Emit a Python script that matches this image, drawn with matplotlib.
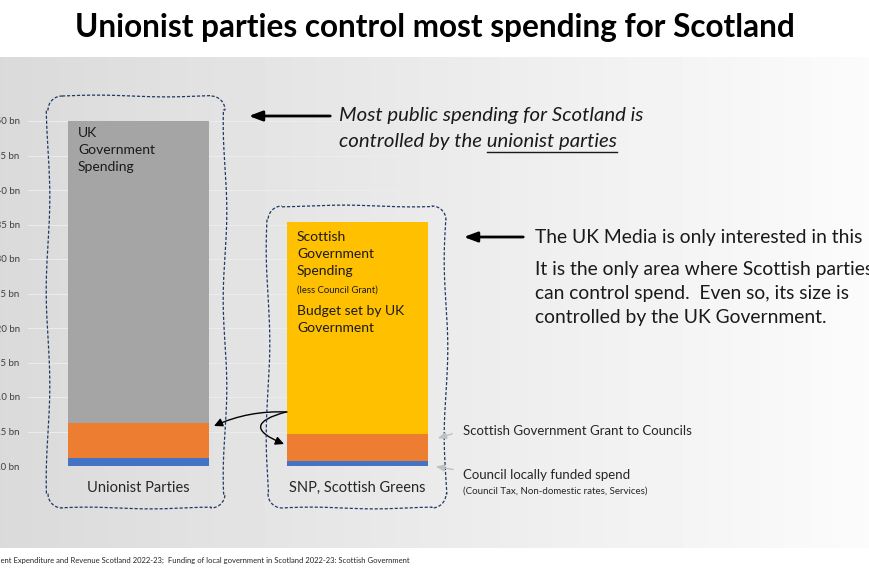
import numpy as np
import matplotlib
matplotlib.use("Agg")
import matplotlib.pyplot as plt
from matplotlib.patches import FancyArrowPatch

plt.rcParams['font.family'] = ['Lato', 'DejaVu Sans']

# data (in £ bn)
categories = ["Unionist Parties", "SNP, Scottish Greens"]
council_local = [1.1, 0.7]
council_grant = [5.1, 4.0]
uk_gov = [43.8, 0.0]
scot_gov = [0.0, 30.6]
yticks = [0, 5, 10, 15, 20, 25, 30, 35, 40, 45, 50]

W, H = 870, 570
fig = plt.figure(figsize=(W / 100, H / 100), dpi=100, facecolor="white")

# grey gradient panel
bg = fig.add_axes([0, 22 / H, 1, 491 / H], zorder=0)
grad = np.linspace(0.855, 0.985, 256).reshape(1, -1)
bg.imshow(grad, cmap="gray", vmin=0, vmax=1, aspect="auto", extent=[0, 1, 0, 1])
bg.set_axis_off()

# main chart axes
ax = fig.add_axes([28 / W, (H - 466) / H, 437 / W, 345 / H], zorder=1)
ax.patch.set_alpha(0)
x = np.arange(len(categories))
bw = 0.644
b1 = np.array(council_local)
b2 = b1 + np.array(council_grant)
b3 = b2 + np.array(uk_gov)
ax.bar(x, council_local, bw, color="#4472c4", zorder=3)
ax.bar(x, council_grant, bw, bottom=b1, color="#ed7d31", zorder=3)
ax.bar(x, uk_gov, bw, bottom=b2, color="#a5a5a5", zorder=3)
ax.bar(x, scot_gov, bw, bottom=b3, color="#ffc000", zorder=3)
ax.set_xlim(-0.505, 1.49)
ax.set_ylim(0, 50)
ax.set_yticks(yticks)
ax.set_yticklabels([f"£{v} bn" for v in yticks], fontsize=7, color="#404040")
ax.set_xticks(x)
ax.set_xticklabels(categories, fontsize=10.5, color="#262626")
ax.tick_params(axis="y", length=0, pad=6)
ax.tick_params(axis="x", length=0, pad=11)
ax.grid(axis="y", color="#ececec", lw=0.8, zorder=0)
for s in ax.spines.values():
    s.set_visible(False)

# labels inside bars
txtc = "#1a1a1a"
ax.text(x[0] - bw / 2 + 0.045, b3[0] - 0.8, "UK\nGovernment\nSpending", fontsize=10,
        color=txtc, va="top", ha="left", linespacing=1.5, zorder=4)
top1 = b3[1] + scot_gov[1]
ax.text(x[1] - bw / 2 + 0.045, top1 - 1.2, "Scottish\nGovernment\nSpending", fontsize=10,
        color=txtc, va="top", ha="left", linespacing=1.5, zorder=4)
ax.text(x[1] - bw / 2 + 0.045, top1 - 9.2, "(less Council Grant)", fontsize=6.8,
        color=txtc, va="top", ha="left", zorder=4)
ax.text(x[1] - bw / 2 + 0.045, top1 - 12.0, "Budget set by UK\nGovernment", fontsize=10,
        color=txtc, va="top", ha="left", linespacing=1.5, zorder=4)

# overlay in pixel coordinates for annotations
ov = fig.add_axes([0, 0, 1, 1], zorder=5)
ov.set_xlim(0, W)
ov.set_ylim(H, 0)
ov.set_axis_off()
ov.patch.set_alpha(0)


def wavy_box(x0, y0, x1, y1, r=14, amp=1.8, ph=0.0):
    pts = []
    for xx in np.linspace(x0 + r, x1 - r, 40):
        pts.append((xx, y0 + amp * 0.5 * np.sin(xx / 22 + ph)))
    for a in np.linspace(-np.pi / 2, 0, 10):
        pts.append((x1 - r + r * np.cos(a), y0 + r + r * np.sin(a)))
    for yy in np.linspace(y0 + r, y1 - r, 80):
        pts.append((x1 + amp * np.sin(yy / 28 + ph), yy))
    for a in np.linspace(0, np.pi / 2, 10):
        pts.append((x1 - r + r * np.cos(a), y1 - r + r * np.sin(a)))
    for xx in np.linspace(x1 - r, x0 + r, 40):
        pts.append((xx, y1 + amp * 0.5 * np.sin(xx / 20 + ph)))
    for a in np.linspace(np.pi / 2, np.pi, 10):
        pts.append((x0 + r + r * np.cos(a), y1 - r + r * np.sin(a)))
    for yy in np.linspace(y1 - r, y0 + r, 80):
        pts.append((x0 + amp * np.sin(yy / 30 + ph + 1), yy))
    for a in np.linspace(np.pi, 1.5 * np.pi, 10):
        pts.append((x0 + r + r * np.cos(a), y0 + r + r * np.sin(a)))
    p = np.array(pts)
    ov.plot(p[:, 0], p[:, 1], color="#1f3864", lw=0.9, ls=(0, (2.5, 1.5)))


wavy_box(48, 96, 225, 508, ph=0.3)
wavy_box(268, 206, 446, 508, ph=1.7)

# title
fig.text(0.5, 1 - 28 / H, "Unionist parties control most spending for Scotland",
         ha="center", va="center", fontsize=22.7, fontweight="bold", color="black")

# top annotation
ov.annotate("", xy=(246, 116), xytext=(333, 116),
            arrowprops=dict(arrowstyle="-|>,head_length=0.8,head_width=0.3", color="black", lw=2))
ov.text(339, 116, "Most public spending for Scotland is", fontsize=14.7, style="italic",
        va="center", ha="left", color="#1a1a1a")
line2 = ov.text(339, 142, "controlled by the unionist parties", fontsize=14.7, style="italic",
                va="center", ha="left", color="#1a1a1a")
fig.canvas.draw()
rend = fig.canvas.get_renderer()
pre = ov.text(339, 142, "controlled by the ", fontsize=14.7, style="italic", va="center", ha="left")
wpre = pre.get_window_extent(rend).width
pre.remove()
wfull = line2.get_window_extent(rend).width
ov.plot([339 + wpre, 339 + wfull], [152, 152], color="#1a1a1a", lw=1)

# media annotation
ov.annotate("", xy=(461, 237), xytext=(526, 237),
            arrowprops=dict(arrowstyle="-|>,head_length=0.8,head_width=0.3", color="black", lw=2))
ov.text(535, 237, "The UK Media is only interested in this", fontsize=13.9,
        va="center", ha="left", color="#1a1a1a")
ov.text(535, 261, "It is the only area where Scottish parties\ncan control spend.  Even so, its size is\ncontrolled by the UK Government.",
        fontsize=13.9, va="top", ha="left", color="#1a1a1a", linespacing=1.5)

# council annotations
ov.annotate("", xy=(435, 439), xytext=(455, 433),
            arrowprops=dict(arrowstyle="-|>,head_length=0.5,head_width=0.2", color="#c0c0c0", lw=1))
ov.annotate("", xy=(433, 466), xytext=(456, 470),
            arrowprops=dict(arrowstyle="-|>,head_length=0.5,head_width=0.2", color="#c0c0c0", lw=1))
ov.text(463, 431, "Scottish Government Grant to Councils", fontsize=9.5, va="center",
        ha="left", color="#262626")
ov.text(463, 475, "Council locally funded spend", fontsize=9.5, va="center",
        ha="left", color="#262626")
ov.text(463, 491, "(Council Tax, Non-domestic rates, Services)", fontsize=7, va="center",
        ha="left", color="#262626")

# curved arrows from SG spending to councils
ov.add_patch(FancyArrowPatch((287, 412), (214, 426), connectionstyle="arc3,rad=0.12",
                             arrowstyle="-|>,head_length=5,head_width=2.5", color="black", lw=1,
                             shrinkA=0, shrinkB=0))
ov.add_patch(FancyArrowPatch((286, 412), (284, 444), connectionstyle="arc3,rad=1.5",
                             arrowstyle="-|>,head_length=5,head_width=2.5", color="black", lw=1,
                             shrinkA=0, shrinkB=0))

# source line, clipped at the left edge like the reference
src = "Sources: Government Expenditure and Revenue Scotland 2022-23;  Funding of local government in Scotland 2022-23: Scottish Government"
pre = ov.text(0, 560, "Sources: Governm", fontsize=5.5, va="center", ha="left")
wsrc = pre.get_window_extent(rend).width
pre.remove()
ov.text(-wsrc, 560, src, fontsize=5.5, va="center", ha="left", color="#262626", clip_on=False)

fig.savefig("out.png", dpi=100)
